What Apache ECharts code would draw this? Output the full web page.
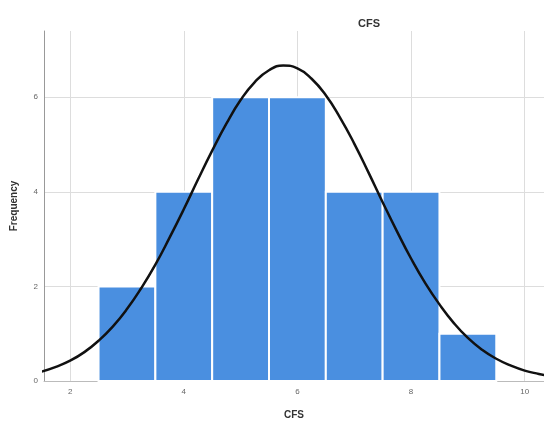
<!DOCTYPE html>
<html>
<head>
<meta charset="utf-8">
<script src="https://cdn.jsdelivr.net/npm/echarts@6/dist/echarts.min.js"></script>
<style>
  html, body { margin: 0; padding: 0; background: #fff; }
  #chart { width: 544px; height: 421px; }
</style>
</head>
<body>
<div id="chart"></div>
<script>
// histogram bins (CFS) and their frequencies
const binStarts = [2.5, 3.5, 4.5, 5.5, 6.5, 7.5, 8.5]
const binWidth = 1
const counts = [2, 4, 6, 6, 4, 4, 1]

// normal curve
const curveX = [1.5, 1.75, 2, 2.25, 2.5, 2.75, 3, 3.25, 3.5, 3.75, 4, 4.25, 4.5, 4.75, 5, 5.25, 5.5, 5.75,
  6, 6.25, 6.5, 6.75, 7, 7.25, 7.5, 7.75, 8, 8.25, 8.5, 8.75, 9, 9.25, 9.5, 9.75, 10, 10.25, 10.5]
const curveY = [0.2, 0.3, 0.43, 0.61, 0.85, 1.15, 1.52, 1.96, 2.46, 3.03, 3.63, 4.26, 4.87, 5.44, 5.94, 6.32, 6.57, 6.67,
  6.61, 6.39, 6.04, 5.57, 5.02, 4.41, 3.78, 3.17, 2.59, 2.07, 1.62, 1.23, 0.91, 0.66, 0.47, 0.33, 0.22, 0.15, 0.09]

const xTicks = [2, 4, 6, 8, 10]
const yTicks = [0, 2, 4, 6]

const chart = echarts.init(document.getElementById('chart'))

const bars = binStarts.map((s, i) => [s, s + binWidth, counts[i]])
const curve = curveX.map((x, i) => [x, curveY[i]])

const labelStyle = { fontSize: 8, color: '#666', fontFamily: 'Liberation Sans' }

const option = {
  animation: false,
  title: {
    text: 'CFS',
    left: 364,
    top: 13,
    textAlign: 'center',
    textStyle: { fontSize: 11, fontWeight: 'bold', color: '#333', fontFamily: 'Liberation Sans' }
  },
  grid: { left: 44, right: 0, top: 31, bottom: 40, outerBoundsMode: 'none', containLabel: false },
  xAxis: {
    type: 'value',
    min: 1.54,
    max: 10.34,
    name: 'CFS',
    nameLocation: 'middle',
    nameGap: 29,
    nameTextStyle: { fontSize: 10, fontWeight: 'bold', color: '#333', fontFamily: 'Liberation Sans' },
    axisLine: { show: true, lineStyle: { color: '#bbb', width: 1 } },
    axisTick: { show: false, customValues: xTicks },
    axisLabel: { ...labelStyle, margin: 7, customValues: xTicks },
    splitLine: { show: true, lineStyle: { color: '#ddd', width: 1 } }
  },
  yAxis: {
    type: 'value',
    min: 0,
    max: 7.4,
    name: 'Frequency',
    nameLocation: 'middle',
    nameGap: 25,
    nameTextStyle: { fontSize: 10, fontWeight: 'bold', color: '#333', fontFamily: 'Liberation Sans' },
    axisLine: { show: true, lineStyle: { color: '#999', width: 1 } },
    axisTick: { show: false, customValues: yTicks },
    axisLabel: { ...labelStyle, margin: 6, customValues: yTicks },
    splitLine: { show: true, lineStyle: { color: '#ddd', width: 1 } }
  },
  series: [
    {
      type: 'custom',
      data: bars,
      renderItem: (params, api) => {
        const p0 = api.coord([api.value(0), 0])
        const p1 = api.coord([api.value(1), api.value(2)])
        return {
          type: 'rect',
          shape: { x: p0[0], y: p1[1], width: p1[0] - p0[0], height: p0[1] - p1[1] },
          style: { fill: '#4a8fe0', stroke: '#fff', lineWidth: 2 }
        }
      },
      encode: { x: [0, 1], y: 2 },
      z: 2
    },
    {
      type: 'line',
      data: curve,
      smooth: true,
      showSymbol: false,
      lineStyle: { color: '#111', width: 2.5 },
      z: 3
    }
  ]
}

chart.setOption(option)
window.addEventListener('resize', () => chart.resize())
</script>
</body>
</html>
